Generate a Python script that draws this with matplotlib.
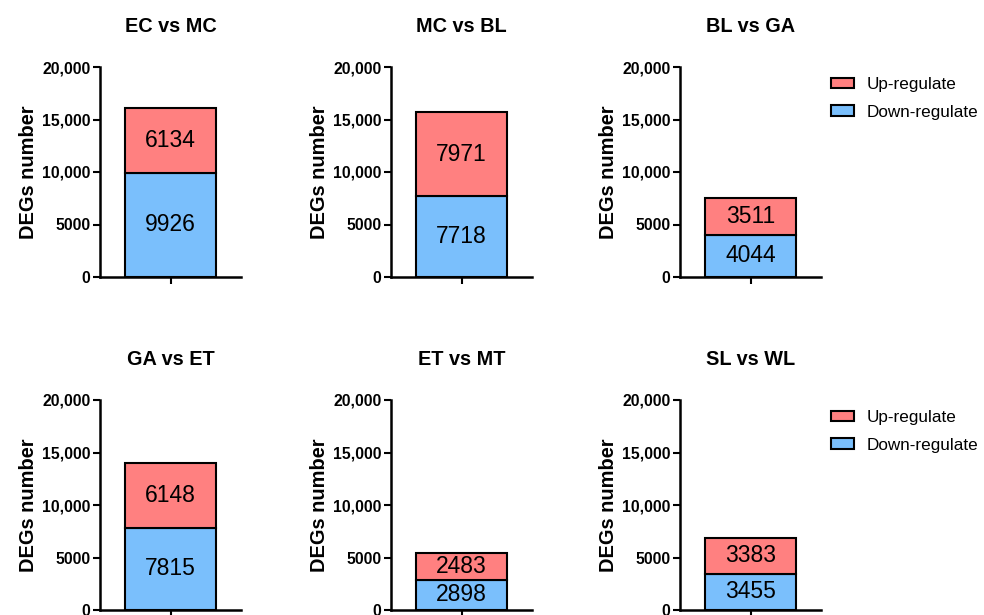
import matplotlib.pyplot as plt

plt.rcParams['font.family'] = ['Liberation Sans', 'DejaVu Sans']

# data
comparisons = ['EC vs MC', 'MC vs BL', 'BL vs GA', 'GA vs ET', 'ET vs MT', 'SL vs WL']
down_counts = [9926, 7718, 4044, 7815, 2898, 3455]
up_counts = [6134, 7971, 3511, 6148, 2483, 3383]
y_ticks = [0, 5000, 10000, 15000, 20000]
y_tick_labels = ['0', '5000', '10,000', '15,000', '20,000']

red = '#FF8080'
blue = '#7ABFFC'

fig = plt.figure(figsize=(9.84, 6.15), dpi=100)

lefts = [100, 391, 680]
bottoms = [277, 610]
W, H = 984, 615

for i, name in enumerate(comparisons):
	row, col = divmod(i, 3)
	ax = fig.add_axes([lefts[col] / W, (H - bottoms[row]) / H, 141 / W, 210 / H])
	dn = down_counts[i]
	up = up_counts[i]
	b1 = ax.bar(0, dn, width=1.0, color=blue, edgecolor='black', linewidth=1.5,
				label='Down-regulate', zorder=2)
	b2 = ax.bar(0, up, bottom=dn, width=1.0, color=red, edgecolor='black', linewidth=1.5,
				label='Up-regulate', zorder=2)
	ax.text(0, dn / 2, str(dn), ha='center', va='center', fontsize=16.5)
	ax.text(0, dn + up / 2, str(up), ha='center', va='center', fontsize=16.5)

	ax.set_xlim(-0.77, 0.77)
	ax.set_ylim(0, 20000)
	ax.set_yticks(y_ticks)
	ax.set_yticklabels(y_tick_labels, fontweight='bold', fontsize=11.3)
	ax.set_xticks([0])
	ax.set_xticklabels([''])
	ax.tick_params(width=1.5, length=5, pad=2)
	for s in ['top', 'right']:
		ax.spines[s].set_visible(False)
	for s in ['left', 'bottom']:
		ax.spines[s].set_linewidth(1.8)
	ax.set_ylabel('DEGs number', fontweight='bold', fontsize=14.4, labelpad=3)
	ax.set_title(name, fontweight='bold', fontsize=14.3, pad=25)

	if col == 2:
		top = 77 if row == 0 else 410
		ax.legend([b2, b1], ['Up-regulate', 'Down-regulate'], loc='upper left',
				  bbox_to_anchor=(831 / W, (H - top) / H), bbox_transform=fig.transFigure,
				  frameon=False, fontsize=12.3, handlelength=1.35, handleheight=0.6,
				  handletextpad=0.75, labelspacing=0.75, borderaxespad=0, borderpad=0)

fig.savefig('out.png', dpi=100)
